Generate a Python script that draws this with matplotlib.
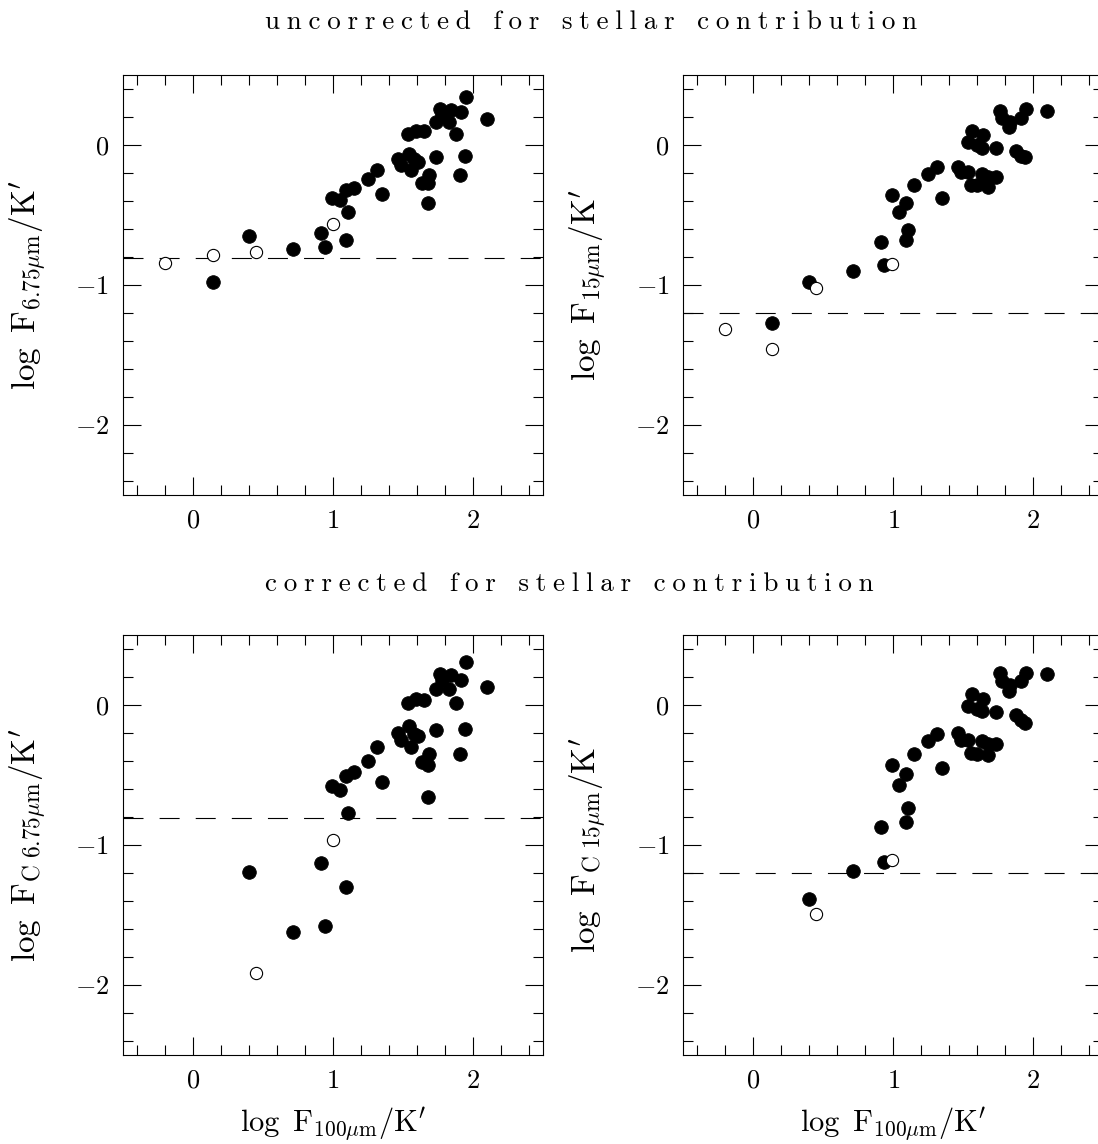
import matplotlib
matplotlib.use('Agg')
import matplotlib.pyplot as plt
from matplotlib.ticker import MultipleLocator
import numpy as np

plt.rcParams['mathtext.fontset'] = 'cm'
plt.rcParams['font.family'] = ['cmr10', 'DejaVu Serif']
plt.rcParams['axes.formatter.use_mathtext'] = True

nan = np.nan

# log F100um/K' for the 6.75um panels (filled symbols)
x_675 = [0.14, 0.40, 0.717, 0.917, 0.94, 1.09, 1.107, 0.995, 1.05, 1.09,
         1.15, 1.248, 1.314, 1.352, 1.462, 1.488, 1.54, 1.533, 1.59, 1.648,
         1.576, 1.56, 1.607, 1.683, 1.638, 1.679, 1.681, 1.738, 1.738, 1.767,
         1.843, 1.78, 1.83, 1.914, 1.95, 1.879, 1.94, 1.905, 2.098]
y_675_uncorr = [-0.976, -0.648, -0.743, -0.629, -0.729, -0.679, -0.479, -0.376, -0.39, -0.324,
                -0.31, -0.245, -0.176, -0.348, -0.098, -0.14, -0.062, 0.081, 0.102, 0.098,
                -0.102, -0.181, -0.121, -0.217, -0.269, -0.274, -0.417, -0.088, 0.162, 0.26,
                0.252, 0.214, 0.162, 0.233, 0.345, 0.076, -0.076, -0.217, 0.183]
y_675_corr = [nan, -1.19, -1.619, -1.126, -1.579, -1.298, -0.769, -0.576, -0.61, -0.507,
              -0.479, -0.40, -0.30, -0.55, -0.198, -0.25, -0.148, 0.012, 0.043, 0.038,
              -0.21, -0.30, -0.221, -0.35, -0.41, -0.429, -0.66, -0.179, 0.112, 0.224,
              0.212, 0.179, 0.112, 0.179, 0.31, 0.012, -0.169, -0.35, 0.131]
# open symbols
x_675_open = [-0.202, 0.14, 0.45, 1.0]
y_675_uncorr_open = [-0.845, -0.786, -0.767, -0.567]
y_675_corr_open = [nan, nan, -1.917, -0.962]

# log F100um/K' for the 15um panels (filled symbols)
x_15 = [0.136, 0.395, 0.712, 0.914, 0.936, 1.088, 1.105, 0.993, 1.043, 1.088,
        1.145, 1.245, 1.312, 1.348, 1.464, 1.483, 1.536, 1.533, 1.564, 1.60,
        1.643, 1.636, 1.636, 1.674, 1.736, 1.555, 1.60, 1.676, 1.733, 1.764,
        1.774, 1.833, 1.829, 1.912, 1.945, 1.876, 1.912, 1.94, 2.095]
y_15_uncorr = [-1.269, -0.976, -0.898, -0.695, -0.857, -0.676, -0.607, -0.357, -0.476, -0.417,
               -0.288, -0.207, -0.157, -0.376, -0.157, -0.195, -0.195, 0.024, 0.102, 0.0,
               0.071, -0.019, -0.207, -0.226, -0.226, -0.288, -0.288, -0.30, -0.019, 0.245,
               0.19, 0.162, 0.126, 0.19, 0.255, -0.04, -0.079, -0.088, 0.243]
y_15_corr = [nan, -1.388, -1.188, -0.869, -1.119, -0.838, -0.738, -0.429, -0.569, -0.49,
             -0.35, -0.26, -0.21, -0.448, -0.20, -0.25, -0.25, -0.01, 0.081, -0.031,
             0.04, -0.04, -0.26, -0.279, -0.279, -0.34, -0.35, -0.36, -0.05, 0.231,
             0.171, 0.14, 0.102, 0.171, 0.231, -0.069, -0.107, -0.129, 0.221]
x_15_open = [-0.205, 0.136, 0.445, 0.993]
y_15_uncorr_open = [-1.317, -1.46, -1.019, -0.848]
y_15_corr_open = [nan, nan, -1.49, -1.107]

cut_675 = -0.81
cut_15 = -1.2

W, H = 1098, 1144


def panel(rect_px, xf, yf, xo, yo, cut, ylabel, xlabel=None):
    l, t, w, h = rect_px
    ax = fig.add_axes([l / W, 1 - (t + h) / H, w / W, h / H])
    ax.plot(xf, yf, 'o', ms=9.8, color='black', mec='black', mew=0.6, zorder=3)
    ax.plot(xo, yo, 'o', ms=8.8, mfc='white', mec='black', mew=0.8, zorder=3)
    ax.axhline(cut, color='black', lw=0.8, ls=(0, (18, 14.5)), zorder=2)
    ax.set_xlim(-0.5, 2.5)
    ax.set_ylim(-2.5, 0.5)
    ax.xaxis.set_major_locator(MultipleLocator(1))
    ax.xaxis.set_minor_locator(MultipleLocator(0.2))
    ax.yaxis.set_major_locator(MultipleLocator(1))
    ax.yaxis.set_minor_locator(MultipleLocator(0.2))
    ax.tick_params(which='both', direction='in', top=True, right=True,
                   width=0.8, labelsize=19, pad=10)
    ax.tick_params(which='major', length=13)
    ax.tick_params(which='minor', length=7)
    for s in ax.spines.values():
        s.set_linewidth(0.8)
    ax.set_ylabel(ylabel, fontsize=24)
    ax.yaxis.set_label_coords(-0.179, 0.5)
    if xlabel:
        ax.set_xlabel(xlabel, fontsize=22)
        ax.xaxis.set_label_coords(0.5, -0.121)
    return ax


fig = plt.figure(figsize=(W / 100, H / 100), dpi=100)

xlab = r"$\mathrm{log\ \,F_{100\mu m}/K'}$"
panel((123, 75, 420, 420), x_675, y_675_uncorr, x_675_open, y_675_uncorr_open,
      cut_675, r"$\mathrm{log\ \,F_{6.75\mu m}/K'}$")
panel((683.3, 75, 420, 420), x_15, y_15_uncorr, x_15_open, y_15_uncorr_open,
      cut_15, r"$\mathrm{log\ \,F_{15\mu m}/K'}$")
panel((123, 635, 420, 420), x_675, y_675_corr, x_675_open, y_675_corr_open,
      cut_675, r"$\mathrm{log\ \,F_{C\ 6.75\mu m}/K'}$", xlab)
panel((683.3, 635, 420, 420), x_15, y_15_corr, x_15_open, y_15_corr_open,
      cut_15, r"$\mathrm{log\ \,F_{C\ 15\mu m}/K'}$", xlab)

# wide letter spacing as in the original plot
sp = '\u2005'
fig.text(265 / W, 1 - 29 / H, sp.join('uncorrected for stellar contribution'),
         ha='left', va='baseline', fontsize=19.5)
fig.text(265 / W, 1 - 591 / H, sp.join('corrected for stellar contribution'),
         ha='left', va='baseline', fontsize=19.5)

fig.savefig('out.png', dpi=100)
